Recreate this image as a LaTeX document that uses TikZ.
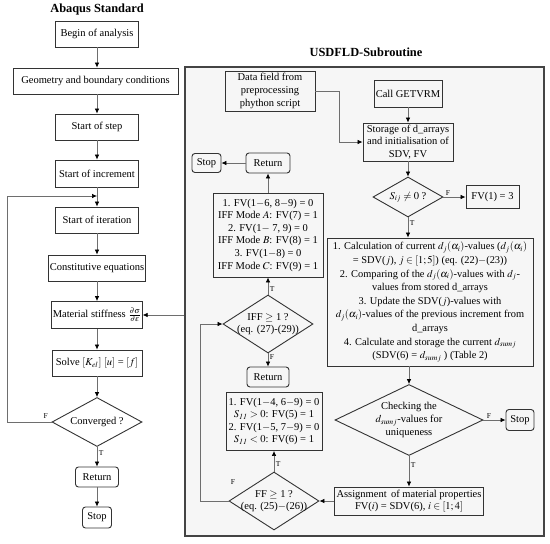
\documentclass[tikz,border=0pt]{standalone}
\usepackage{mathptmx}
\usepackage{fontspec}
\setmainfont{Liberation Serif}
\usetikzlibrary{arrows.meta,positioning,shapes.geometric}
\definecolor{boxline}{HTML}{333333}
\definecolor{frameline}{HTML}{444444}
\definecolor{frameback}{HTML}{F6F6F6}
\definecolor{arrline}{HTML}{6E6E6E}

\begin{document}
\begin{tikzpicture}[x=1pt,y=-1pt,font=\fontsize{10.5}{12.6}\selectfont,
 >={Latex[length=5pt,width=4.5pt,black]},
 box/.style={draw=boxline,line width=.9pt,align=center,inner sep=1pt},
 endbox/.style={box,rounded corners=3pt},
 dia/.style={diamond,draw=boxline,line width=.9pt,inner sep=0pt},
 arr/.style={->,arrline,line width=.7pt},
 tf/.style={font=\fontsize{7.5}{8}\selectfont,inner sep=1.5pt,text=black},
 heading/.style={font=\fontsize{12.4}{14}\selectfont\bfseries}]
\useasboundingbox (0,0) rectangle (550,544);
% Abaqus side
\node[heading] (abq) at (97,10) {Abaqus Standard};
\node[box,minimum width=83pt,minimum height=26pt] (begin) at (97,34) {Begin of analysis};
\node[box,minimum width=165pt,minimum height=26pt] (geom) at (95.5,81) {Geometry and boundary conditions};
\node[box,minimum width=83pt,minimum height=26pt] (step1) at (97,127) {Start of step};
\node[box,minimum width=83pt,minimum height=27pt] (incr) at (97,173.5) {Start of increment};
\node[box,minimum width=83pt,minimum height=26pt] (iter) at (97,220) {Start of iteration};
\node[box,minimum width=97pt,minimum height=26pt] (const) at (97,268) {Constitutive equations};
\node[box,minimum width=90pt,minimum height=27pt] (stiff) at (97,315) {Material stiffness $\frac{\partial\sigma}{\partial\varepsilon}$};
\node[box,minimum width=90pt,minimum height=26pt] (solve) at (97,363) {Solve $[K_{el}]$ $[u]$ = $[f]$};
\node[dia,minimum width=90pt,minimum height=49pt] (conv) at (97,422) {};
\node (convtxt) at (conv) {Converged ?};
\node[endbox,minimum width=43pt,minimum height=20pt] (ret1) at (97,477) {Return};
\node[endbox,minimum width=29pt,minimum height=21pt] (stop1) at (97,517.5) {Stop};
\coordinate (loopl) at (7,196);

\draw[arr] (begin.south) -- (begin.south |- geom.north);
\draw[arr] (begin.south |- geom.south) -- (step1.north);
\draw[arr] (step1) -- (incr);
\draw[arr] (incr) -- (iter);
\draw[arr] (iter) -- (const);
\draw[arr] (const) -- (stiff);
\draw[arr] (stiff) -- (solve);
\draw[arr] (solve) -- (conv);
\draw[arr] (conv.south) -- node[tf,right,pos=.3] {T} (ret1.north);
\draw[arr] (ret1) -- (stop1);
\draw[arr] (conv.west) node[tf,above left=2pt and 2pt] {F} -| (loopl) -- (loopl -| incr.south);

% USDFLD side
\node[draw=frameline,line width=1.5pt,fill=frameback,minimum width=359pt,minimum height=469pt,inner sep=0pt] (usd) at (364.5,301.5) {};
\node[heading] (usdt) at (366,52) {USDFLD-Subroutine};
\node[box,minimum width=90pt,minimum height=40pt] (data) at (270,91) {Data field from\\preprocessing\\phython script};
\node[box,minimum width=68pt,minimum height=27pt] (getv) at (408,93.5) {Call GETVRM};
\node[box,minimum width=90pt,minimum height=38pt,inner sep=0pt] (store) at (408,142) {Storage of d\_arrays\\and initialisation of\\SDV, FV};
\node[dia,minimum width=70pt,minimum height=40pt] (sij) at (408,197) {};
\node (sijtxt) at (sij) {$S_{ij}\neq 0$ ?};
\node[box,minimum width=53pt,minimum height=23pt] (fvone) at (492.5,197) {FV(1) = 3};
\node[box,minimum width=206pt,minimum height=128pt,font=\fontsize{10.4}{13.6}\selectfont] (calc) at (430,302)
 {1. Calculation of current $d_j(\alpha_i)$-values ($d_j(\alpha_i)$\\
 = SDV($j$), $j\in[1;5]$) (eq. (22)$-$(23))\\
 2. Comparing of the $d_j(\alpha_i)$-values with $d_j$-\\
 values from stored d\_arrays\\
 3. Update the SDV($j$)-values with\\
 $d_j(\alpha_i)$-values of the previous increment from\\
 d\_arrays\\
 4. Calculate and storage the current $d_{sumj}$\\
 (SDV(6) = $d_{sumj}$ ) (Table 2)};
\node[dia,minimum width=148pt,minimum height=71pt] (chk) at (409,420) {};
\node[align=center] (chktxt) at (chk) {Checking the\\$d_{sumj}$-values for\\uniqueness};
\node[endbox,minimum width=28pt,minimum height=21pt] (stop3) at (520,420) {Stop};
\node[box,minimum width=149pt,minimum height=28pt] (assign) at (409,501) {Assignment\, of material properties\\FV($i$) = SDV(6), $i\in[1;4]$};
\node[dia,minimum width=90pt,minimum height=58pt] (ff) at (274,501) {};
\node[align=center] (fftxt) at (ff) {FF $\geq$ 1 ?\\(eq. (25)$-$(26))};
\node[box,minimum width=96pt,minimum height=58pt] (fvb) at (274,421.5) {1. FV(1$-$4, 6$-$9) = 0\\$S_{\mathit{11}}>0$: FV(5) = 1\\2. FV(1$-$5, 7$-$9) = 0\\$S_{\mathit{11}}<0$: FV(6) = 1};
\node[endbox,minimum width=42pt,minimum height=20pt] (ret2) at (268,377) {Return};
\node[dia,minimum width=90pt,minimum height=58pt] (iff) at (268,324) {};
\node[align=center] (ifftxt) at (iff) {IFF $\geq$ 1 ?\\(eq. (27)-(29))};
\node[box,minimum width=110pt,minimum height=84pt] (fva) at (268,235) {1. FV(1$-$6, 8$-$9) = 0\\IFF Mode $A$: FV(7) = 1\\2. FV(1$-$ 7, 9) = 0\\IFF Mode $B$: FV(8) = 1\\3. FV(1$-$8) = 0\\IFF Mode $C$: FV(9) = 1};
\node[endbox,minimum width=44pt,minimum height=20pt] (ret3) at (268,163) {Return};
\node[endbox,minimum width=29pt,minimum height=19pt] (stop2) at (206.5,163) {Stop};
\coordinate (ffl) at (200,501);

\draw[arr] (data.east) -- ++(24,0) |- (store.west);
\draw[arr] (getv) -- (store);
\draw[arr] (store) -- (sij);
\draw[arr] (sij.east) -- node[tf,above,pos=.2] {F} (fvone.west);
\draw[arr] (sij.south) -- node[tf,right,pos=.3] {T} (sij.south |- calc.north);
\draw[arr] (chk.north |- calc.south) -- (chk.north);
\draw[arr] (chk.east) -- node[tf,above,pos=.25] {F} (stop3.west);
\draw[arr] (chk.south) -- node[tf,right,pos=.3] {T} (assign.north);
\draw[arr] (assign.west) -- (ff.east);
\draw[arr] (ff.north) -- node[tf,right,pos=.35] {T} (fvb.south);
\draw[arr] (ff.west) -- (ffl) |- (iff.west);
\node[tf] (fflabel) at (233,482) {F};
\draw[arr] (iff.north) -- node[tf,right,pos=.3] {T} (fva.south);
\draw[arr] (iff.south) -- node[tf,right,pos=.3] {F} (ret2.north);
\draw[arr] (fva) -- (ret3);
\draw[arr] (ret3) -- (stop2);
\draw[arr] (usd.west |- stiff) -- (stiff.east);
\end{tikzpicture}
\end{document}
